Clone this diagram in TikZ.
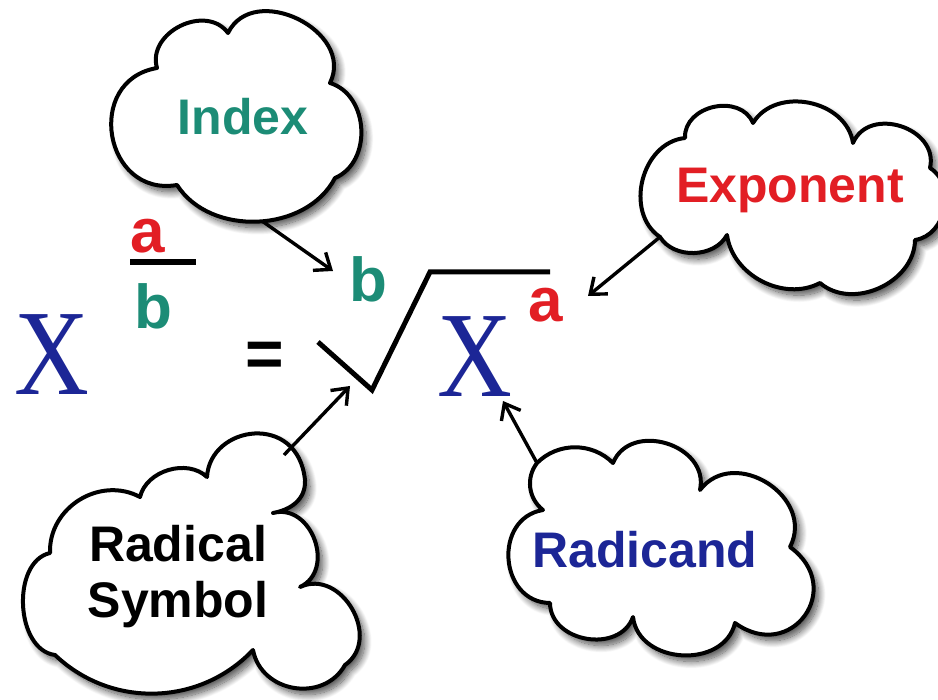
\documentclass[tikz,border=0pt]{standalone}
\usepackage{fontspec}
\setmainfont{Liberation Sans}
\newfontfamily\serifX{Liberation Serif}
\usetikzlibrary{shadows.blur,arrows.meta}
\definecolor{tealc}{RGB}{28,140,118}
\definecolor{redc}{RGB}{226,30,36}
\definecolor{navyc}{RGB}{28,38,150}
\begin{document}
\begin{tikzpicture}[x=1pt,y=-1pt,
  cloudline/.style={draw=black, line width=4pt, fill=white, line join=round,
    blur shadow={shadow xshift=5pt, shadow yshift=-6pt, shadow opacity=70, shadow blur steps=14, shadow blur radius=7pt}},
  lbl/.style={font=\fontsize{50}{56}\selectfont\bfseries, align=center, inner sep=0pt},
  big/.style={font=\fontsize{62}{62}\selectfont\bfseries, inner sep=0pt},
  bigX/.style={font=\serifX\fontsize{122}{122}\selectfont, text=navyc, xscale=0.85, inner sep=0pt},
  arr/.style={line width=3.4pt, -{Straight Barb[length=14pt,width=22pt,line width=3.4pt]}}
]
\useasboundingbox (0,0) rectangle (938,700);

% ---- clouds ----
% Index
\draw[cloudline] (177,185) to[bend left=90, looseness=1.6] (157,68)
  to[bend left=80, looseness=1.2] (228,33)
  to[bend left=90, looseness=1.3] (330,83)
  to[bend left=70, looseness=1.1] (335,178)
  to[bend left=60] (177,185) -- cycle;
% Exponent
\draw[cloudline] (660,237) to[bend left=70, looseness=1.1] (685,138)
  to[bend left=80, looseness=1.2] (753,123)
  to[bend left=70, looseness=1.1] (853,143)
  to[bend left=85, looseness=1.3] (930,168)
  to[bend left=70, looseness=1.1] (915,240)
  to[bend left=65, looseness=1.05] (820,283)
  to[bend left=55] (727,235)
  to[bend left=60] (660,237) -- cycle;
% Radical Symbol
\draw[cloudline] (207,477) .. controls (210,425) and (298,412) .. (305,480)
  .. controls (306,500) and (290,510) .. (273,513)
  to[bend left=85, looseness=1.3] (300,587)
  to[bend left=85, looseness=1.3] (345,665)
  to[bend left=70, looseness=1.2] (253,650)
  to[bend left=45] (55,655)
  to[bend left=80] (50,553)
  to[bend left=60, looseness=1.1] (140,497)
  to[bend left=60] (207,477) -- cycle;
% Radicand
\draw[cloudline] (537,463) to[bend left=45] (613,463)
  to[bend left=85, looseness=1.3] (700,490)
  to[bend left=85, looseness=1.35] (790,547)
  to[bend left=90, looseness=1.9] (735,623)
  to[bend left=80, looseness=1.2] (633,617)
  to[bend left=80, looseness=1.2] (550,603)
  to[bend left=85, looseness=1.4] (543,510)
  to[bend left=45] (537,463) -- cycle;

% ---- cloud labels ----
\node[lbl, text=tealc] (tIndex) at (243,117) {Index};
\node[lbl, text=redc] (tExp) at (790,190) {Exponent};
\node[lbl, text=black] (tRad) at (178,577) {Radical\\Symbol};
\node[lbl, text=navyc] (tRcd) at (645,550) {Radicand};

% ---- formula ----
\node[bigX] (X1) at (52,355) {X};
\node[big, text=redc] (fa) at (148,236) {a};
\node[big, text=tealc] (fb) at (153,306) {b};
\draw[line width=6pt] (130,262) coordinate (barL) -- (196,262) coordinate (barR);
\node[big, font=\fontsize{66}{66}\selectfont\bfseries] (eq) at (265,359) {=};
\coordinate (r1) at (318,342);
\coordinate (rV) at (372,390);
\coordinate (r2) at (430,272);
\coordinate (r3) at (550,272);
\draw[line width=5pt, line join=miter] (r1) -- (rV) -- (r2) -- (r3);
\node[big, text=tealc] (ib) at (368,279) {b};
\node[bigX] (X2) at (475,357) {X};
\node[big, text=redc] (ea) at (546,305) {a};

% ---- arrows ----
\coordinate (idxA) at (262,221);
\coordinate (idxT) at (333,271);
\coordinate (expA) at (660,237);
\coordinate (expT) at (588,296);
\coordinate (radA) at (284,455);
\coordinate (radT) at (350,386);
\coordinate (rcdA) at (537,463);
\coordinate (rcdT) at (503,401);
\draw[arr] (idxA) -- (idxT);
\draw[arr] (expA) -- (expT);
\draw[arr] (radA) -- (radT);
\draw[arr] (rcdA) -- (rcdT);
\end{tikzpicture}
\end{document}
